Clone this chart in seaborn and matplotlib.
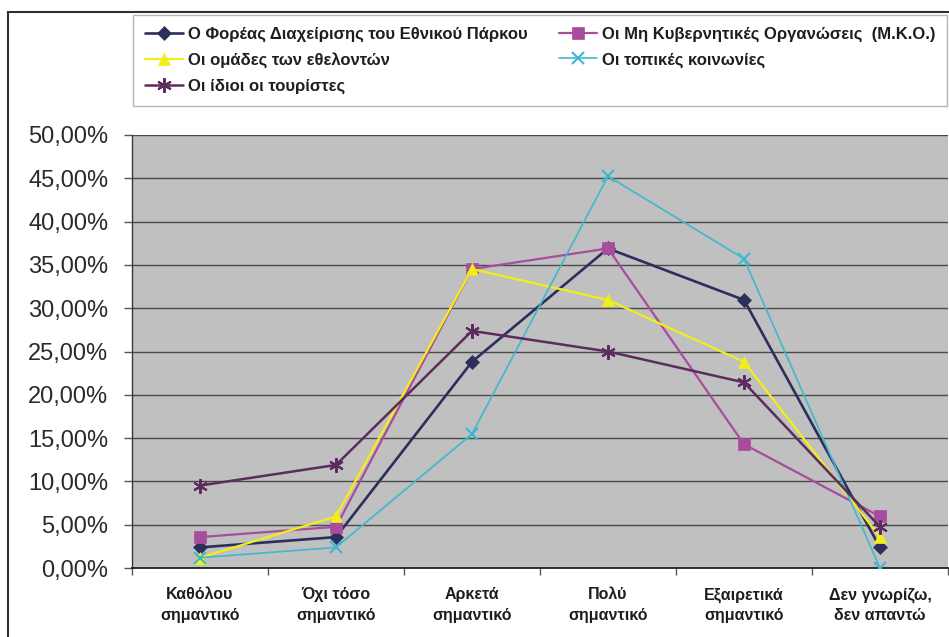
import matplotlib
matplotlib.use("Agg")
import matplotlib.pyplot as plt
import matplotlib.ticker as mticker
from matplotlib.patches import Rectangle
import numpy as np
import pandas as pd
import seaborn as sns

# Response categories (x axis)
categories = [
    "Καθόλου\nσημαντικό",
    "Όχι τόσο\nσημαντικό",
    "Αρκετά\nσημαντικό",
    "Πολύ\nσημαντικό",
    "Εξαιρετικά\nσημαντικό",
    "Δεν γνωρίζω,\nδεν απαντώ",
]

# Series names (legend order)
series_names = [
    "Ο Φορέας Διαχείρισης του Εθνικού Πάρκου",
    "Οι Μη Κυβερνητικές Οργανώσεις  (Μ.Κ.Ο.)",
    "Οι ομάδες των εθελοντών",
    "Οι τοπικές κοινωνίες",
    "Οι ίδιοι οι τουρίστες",
]

# Percentages per category
foreas = [2.38, 3.57, 23.81, 36.90, 30.95, 2.38]
mko = [3.57, 4.76, 34.52, 36.90, 14.29, 5.95]
ethelontes = [1.19, 5.95, 34.52, 30.95, 23.81, 3.57]
topikes = [1.19, 2.38, 15.48, 45.24, 35.71, 0.00]
touristes = [9.52, 11.90, 27.38, 25.00, 21.43, 4.76]

series_values = [foreas, mko, ethelontes, topikes, touristes]

colors = ["#2E2E5E", "#A84C9E", "#F2EE1A", "#3DB9CF", "#5C2C5E"]
markers = ["D", "s", "^", "x", (6, 2, 0)]
msizes = [7, 8, 8.5, 8.5, 10.5]
lwidths = [1.9, 1.6, 1.6, 1.2, 1.8]

rows = []
for name, vals in zip(series_names, series_values):
    for i, v in enumerate(vals):
        rows.append({"series": name, "pos": i, "value": v})
df = pd.DataFrame(rows)

sns.set_theme(style="white")
plt.rcParams["font.family"] = ["Liberation Sans", "DejaVu Sans"]

W, H = 949, 637
fig = plt.figure(figsize=(W / 100, H / 100), dpi=100)
fig.patch.set_facecolor("white")

ax = fig.add_axes([132 / W, 1 - 568 / H, (948 - 132) / W, (568 - 135) / H])
ax.set_facecolor("#C0C0C0")

for name, col, mk, ms, lw in zip(series_names, colors, markers, msizes, lwidths):
    sub = df[df["series"] == name]
    line_art = mk == "x" or isinstance(mk, tuple)
    sns.lineplot(
        data=sub, x="pos", y="value", ax=ax, color=col, linewidth=lw,
        marker=mk, markersize=ms, markeredgecolor=col, markerfacecolor=col,
        markeredgewidth=1.5 if line_art else 0.5, label=name, legend=False,
        zorder=3,
    )

ax.set_xlim(-0.5, len(categories) - 0.5)
ax.set_ylim(0, 50)
ax.set_xlabel("")
ax.set_ylabel("")

# y axis: 0,00% .. 50,00%
ax.yaxis.set_major_locator(mticker.MultipleLocator(5))
ax.yaxis.set_major_formatter(
    mticker.FuncFormatter(lambda v, p: f"{v:.2f}%".replace(".", ","))
)
ax.grid(axis="y", color="#4A4A4A", linewidth=1.0, zorder=1)
ax.grid(axis="x", visible=False)
ax.set_axisbelow(True)

ax.tick_params(axis="y", which="major", direction="out", length=6, width=1,
               color="#555555", pad=11, labelsize=17, labelcolor="#2A2A2A",
               left=True)

# x axis: labels at the category centres, tick marks at the boundaries
ax.set_xticks(range(len(categories)))
ax.set_xticklabels(categories, fontweight="bold", fontsize=11.5,
                   color="#1E1E1E", linespacing=1.45)
ax.tick_params(axis="x", which="major", length=0, pad=14)
ax.set_xticks(np.arange(-0.5, len(categories), 1.0), minor=True)
ax.tick_params(axis="x", which="minor", direction="out", length=5, width=1,
               color="#555555", bottom=True)

for side in ["top", "right"]:
    ax.spines[side].set_visible(False)
ax.spines["left"].set_color("#3A3A3A")
ax.spines["left"].set_linewidth(1.0)
ax.spines["bottom"].set_color("#222222")
ax.spines["bottom"].set_linewidth(1.3)

# Legend: two columns, filled row by row
h, l = ax.get_legend_handles_labels()
order = [0, 2, 4, 1, 3]
leg = fig.legend(
    [h[i] for i in order], [l[i] for i in order],
    loc="upper left",
    bbox_to_anchor=(133 / W, 1 - 100 / H, (947 - 133) / W, 85 / H),
    mode="expand", ncol=2, frameon=True, fancybox=False,
    edgecolor="#B5B5B5", framealpha=1.0,
    prop={"weight": "bold", "size": 12},
    handlelength=2.3, handletextpad=0.3, labelspacing=0.62,
    borderpad=0.7, borderaxespad=0.0, columnspacing=1.0,
)
leg.get_frame().set_linewidth(1.0)
for t in leg.get_texts():
    t.set_color("#1E1E1E")

# Outer chart-area border
fig.add_artist(Rectangle((8 / W, -0.2), 1.2, 1.2 - 12 / H,
                         transform=fig.transFigure, fill=False,
                         edgecolor="#303030", linewidth=1.5, zorder=0))

fig.savefig("out.png", dpi=100)
